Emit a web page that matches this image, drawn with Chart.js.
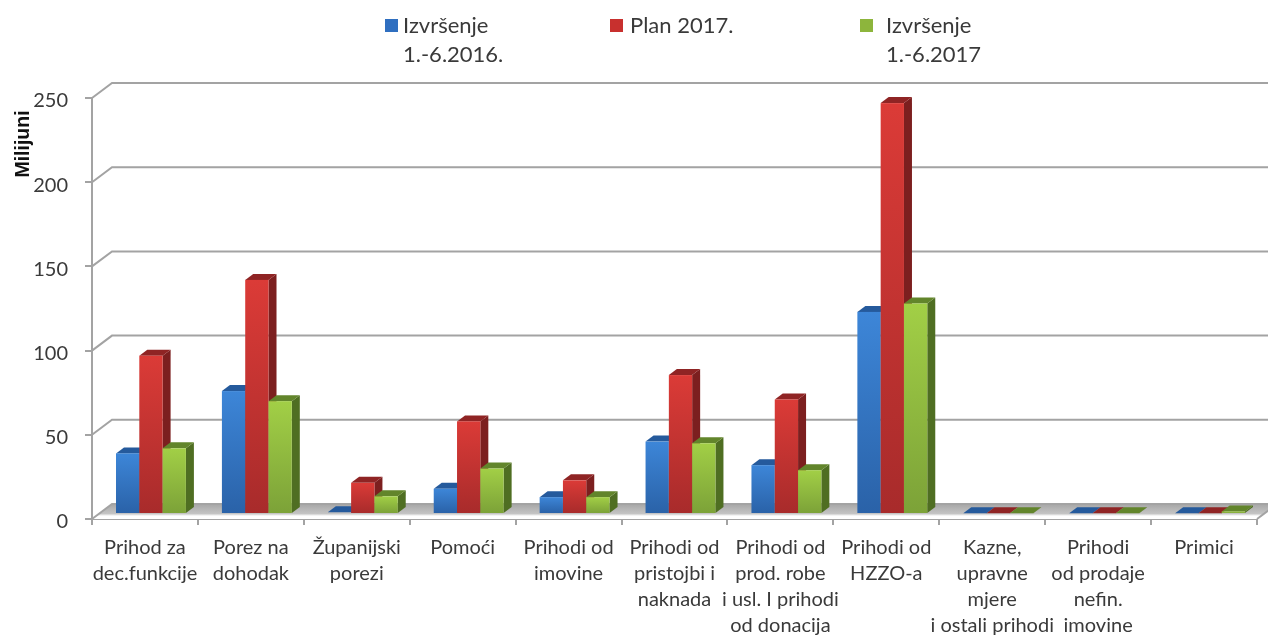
<!DOCTYPE html>
<html>
<head>
<meta charset="utf-8">
<style>
  html, body { margin: 0; padding: 0; background: #fff; overflow: hidden; }
  canvas { display: block; }
</style>
<script src="https://cdn.jsdelivr.net/npm/chart.js@4/dist/chart.umd.min.js"></script>
</head>
<body>
<canvas id="chart" width="1268" height="637"></canvas>
<script>
// Data
const categories = [
  ['Prihod za', 'dec.funkcije'],
  ['Porez na', 'dohodak'],
  ['Županijski', 'porezi'],
  ['Pomoći'],
  ['Prihodi od', 'imovine'],
  ['Prihodi od', 'pristojbi i', 'naknada'],
  ['Prihodi od', 'prod. robe', 'i usl. I prihodi', 'od donacija'],
  ['Prihodi od', 'HZZO-a'],
  ['Kazne,', 'upravne', 'mjere', 'i ostali prihodi'],
  ['Prihodi', 'od prodaje', 'nefin.', 'imovine'],
  ['Primici']
];
const izvrsenje2016 = [36, 73, 1, 15, 10, 43, 29, 120, 0.5, 0.5, 0.5];
const plan2017 = [94, 139, 18.5, 55, 20, 82.5, 68, 244, 0.5, 0.5, 0.5];
const izvrsenje2017 = [39, 67, 10.5, 27, 10, 42, 26, 125, 0.5, 0.5, 1.5];
const yTicks = [0, 50, 100, 150, 200, 250];
const legendLines = [['Izvršenje', '1.-6.2016.'], ['Plan 2017.'], ['Izvršenje', '1.-6.2017']];
const yTitle = 'Milijuni';

const FONT = 'Lato, "Open Sans", sans-serif';
const TEXT = '#3a3a3a';
const GRID = '#a3a3a3';

// 3D look: depth of the plot box and of the bars
const BOX_DX = 20, BOX_DY = 15;
const BAR_DX = 6, BAR_DY = 5, SIDE_W = 8, TOP_H = 6;

const colors = [
  { light: '#3d86d8', mid: '#2f6fc0', dark: '#2a62a8', side: '#1f4a80', top: '#255a9c' },
  { light: '#db3b37', mid: '#c8302e', dark: '#a82b2b', side: '#7c1f1f', top: '#8f2424' },
  { light: '#a2cf46', mid: '#8db53c', dark: '#7ca238', side: '#4f6e22', top: '#62852b' }
];
const legendX = [385, 610, 860];
const legendTextX = [403, 630, 886];

const drawBox = (chart) => {
  const { ctx, chartArea, scales } = chart;
  const y0 = scales.y.getPixelForValue(0);
  const left = chartArea.left, right = chartArea.right;

  // floor
  const floor = ctx.createLinearGradient(0, y0 - BOX_DY, 0, y0 - 3);
  floor.addColorStop(0, '#a6a6a6');
  floor.addColorStop(0.8, '#c4c4c4');
  floor.addColorStop(1, '#ffffff');
  ctx.fillStyle = floor;
  ctx.beginPath();
  ctx.moveTo(left, y0);
  ctx.lineTo(left + BOX_DX, y0 - BOX_DY);
  ctx.lineTo(right + BOX_DX, y0 - BOX_DY);
  ctx.lineTo(right, y0);
  ctx.closePath();
  ctx.fill();

  // back wall lines and the slanted bits going to the axis
  ctx.strokeStyle = GRID;
  ctx.lineWidth = 2;
  yTicks.forEach(t => {
    const y = scales.y.getPixelForValue(t);
    ctx.beginPath();
    ctx.moveTo(left, y);
    ctx.lineTo(left + BOX_DX, y - BOX_DY);
    ctx.lineTo(right + BOX_DX, y - BOX_DY);
    ctx.stroke();
  });
  ctx.beginPath();
  ctx.moveTo(right, y0);
  ctx.lineTo(right + BOX_DX, y0 - BOX_DY);
  ctx.stroke();
};

const drawBar = (ctx, bar, c) => {
  const x1 = bar.x - bar.width / 2 + BAR_DX;
  const x2 = bar.x + bar.width / 2 + BAR_DX;
  const top = bar.y - BAR_DY;
  const bottom = bar.base - BAR_DY;

  // side
  ctx.fillStyle = c.side;
  ctx.beginPath();
  ctx.moveTo(x2, top);
  ctx.lineTo(x2 + SIDE_W, top - TOP_H);
  ctx.lineTo(x2 + SIDE_W, bottom - TOP_H);
  ctx.lineTo(x2, bottom);
  ctx.closePath();
  ctx.fill();

  // top
  ctx.fillStyle = c.top;
  ctx.beginPath();
  ctx.moveTo(x1, top);
  ctx.lineTo(x1 + SIDE_W, top - TOP_H);
  ctx.lineTo(x2 + SIDE_W, top - TOP_H);
  ctx.lineTo(x2, top);
  ctx.closePath();
  ctx.fill();

  // front
  if (bottom - top > 1) {
    const g = ctx.createLinearGradient(0, top, 0, bottom);
    g.addColorStop(0, c.light);
    g.addColorStop(1, c.dark);
    ctx.fillStyle = g;
    ctx.fillRect(x1, top, x2 - x1, bottom - top);
  }
};

const bars3d = {
  id: 'bars3d',
  beforeDatasetsDraw(chart) {
    const ctx = chart.ctx;
    ctx.save();
    drawBox(chart);
    chart.data.datasets.forEach((ds, i) => {
      chart.getDatasetMeta(i).data.forEach(bar => drawBar(ctx, bar, colors[i]));
    });
    ctx.restore();
  },
  // the bars are already done above
  beforeDatasetDraw() {
    return false;
  },
  afterDraw(chart) {
    const ctx = chart.ctx;
    ctx.save();
    // legend
    ctx.textBaseline = 'middle';
    ctx.textAlign = 'left';
    ctx.font = '22px ' + FONT;
    legendLines.forEach((lines, i) => {
      ctx.fillStyle = colors[i].mid;
      ctx.fillRect(legendX[i], 19, 13, 13);
      ctx.fillStyle = TEXT;
      lines.forEach((line, j) => ctx.fillText(line, legendTextX[i], 26 + j * 29));
    });
    // y title
    ctx.translate(24, 144);
    ctx.rotate(-Math.PI / 2);
    ctx.textAlign = 'center';
    ctx.font = 'bold 19.5px "Liberation Sans", sans-serif';
    ctx.fillStyle = '#111';
    ctx.fillText(yTitle, 0, 0);
    ctx.restore();
  }
};

new Chart(document.getElementById('chart'), {
  type: 'bar',
  data: {
    labels: categories,
    datasets: [
      { label: 'Izvršenje 1.-6.2016.', data: izvrsenje2016, backgroundColor: colors[0].mid },
      { label: 'Plan 2017.', data: plan2017, backgroundColor: colors[1].mid },
      { label: 'Izvršenje 1.-6.2017', data: izvrsenje2017, backgroundColor: colors[2].mid }
    ]
  },
  options: {
    responsive: false,
    animation: false,
    devicePixelRatio: 1,
    layout: { padding: { top: 98, right: 11, left: 0, bottom: 0 } },
    plugins: { legend: { display: false }, tooltip: { enabled: false } },
    datasets: { bar: { categoryPercentage: 0.66, barPercentage: 1 } },
    scales: {
      x: {
        afterFit: scale => { scale.height = 118; },
        grid: { drawOnChartArea: false, tickLength: 6, tickColor: GRID, lineWidth: 2 },
        border: { color: GRID, width: 2 },
        ticks: {
          autoSkip: false,
          maxRotation: 0,
          minRotation: 0,
          padding: 10,
          color: TEXT,
          font: { family: FONT, size: 20, lineHeight: '26px' }
        }
      },
      y: {
        min: 0,
        max: 250,
        afterFit: scale => { scale.width = 92; },
        grid: { drawOnChartArea: false, tickLength: 7, tickColor: GRID, lineWidth: 2 },
        border: { color: GRID, width: 2 },
        ticks: {
          stepSize: 50,
          padding: 17,
          color: TEXT,
          // blank first line pushes the number down a few px, as in the reference
          callback: value => ['', String(value)],
          font: { family: FONT, size: 20, lineHeight: '6px' }
        }
      }
    }
  },
  plugins: [bars3d]
});
</script>
</body>
</html>
